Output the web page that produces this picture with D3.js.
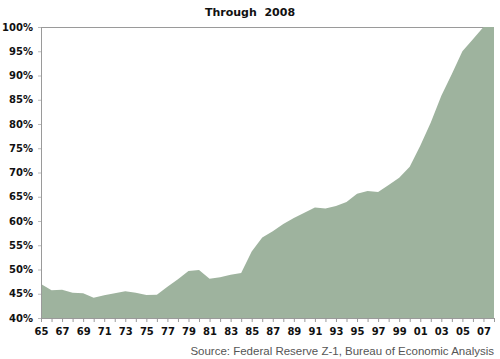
<!DOCTYPE html>
<html>
<head>
<meta charset="utf-8">
<script src="https://cdn.jsdelivr.net/npm/d3@7"></script>
<style>
  html, body { margin: 0; padding: 0; background: #fff; }
  svg { display: block; }
</style>
</head>
<body>
<svg id="chart" width="500" height="359"></svg>
<script>
// ---- data ----
const years = [1965,1966,1967,1968,1969,1970,1971,1972,1973,1974,1975,1976,1977,1978,1979,
  1980,1981,1982,1983,1984,1985,1986,1987,1988,1989,1990,1991,1992,1993,1994,1995,1996,1997,
  1998,1999,2000,2001,2002,2003,2004,2005,2006,2007,2008];
const values = [47.0,45.7,45.8,45.2,45.1,44.2,44.7,45.1,45.5,45.2,44.75,44.8,46.45,48.0,49.7,
  49.9,48.1,48.4,48.9,49.3,53.7,56.6,57.9,59.4,60.6,61.7,62.8,62.6,63.1,63.9,65.6,66.2,66.0,
  67.4,68.9,71.2,75.5,80.3,85.8,90.3,95.0,97.5,100,100];
const yTicks = [40,45,50,55,60,65,70,75,80,85,90,95,100];
const xLabelYears = [1965,1967,1969,1971,1973,1975,1977,1979,1981,1983,1985,1987,1989,1991,
  1993,1995,1997,1999,2001,2003,2005,2007];
const title = "Through\u00a0\u00a02008";
const source = "Source: Federal Reserve Z-1, Bureau of Economic Analysis";

// ---- layout ----
const svg = d3.select("#chart");
const pL = 41, pR = 494, pT = 27, pB = 318;
const x = d3.scaleLinear().domain([1965, 2008]).range([pL, pR]);
const y = d3.scaleLinear().domain([40, 100]).range([pB, pT]);
const data = years.map((yr, i) => ({ yr, v: values[i] }));

svg.append("defs").append("clipPath").attr("id", "clip")
  .append("rect").attr("x", pL).attr("y", pT).attr("width", pR - pL).attr("height", pB - pT);

// top gridline (100%)
svg.append("line").attr("x1", pL).attr("x2", pR).attr("y1", y(100) + 0.5).attr("y2", y(100) + 0.5)
  .attr("stroke", "#9a9a9a").attr("stroke-width", 1);

// area
const area = d3.area().x(d => x(d.yr)).y0(y(40)).y1(d => y(d.v));
svg.append("path").datum(data).attr("d", area)
  .attr("fill", "#9eb39e").attr("clip-path", "url(#clip)");

// y axis
const yAxis = d3.axisLeft(y).tickValues(yTicks).tickSize(3).tickPadding(5)
  .tickFormat(d => d + "%");
const gy = svg.append("g").attr("transform", `translate(${pL},0)`).call(yAxis);
gy.select(".domain").attr("stroke", "#9a9a9a");
gy.selectAll(".tick line").attr("stroke", "#bbbbbb");
gy.selectAll("text").attr("font-family", "'DejaVu Sans', Verdana, sans-serif")
  .attr("font-weight", "bold").attr("font-size", "10px").attr("fill", "#111");

// x axis
const xAxis = d3.axisBottom(x).tickValues(years).tickSize(4).tickPadding(6)
  .tickFormat(d => xLabelYears.includes(d) ? String(d).slice(2) : "");
const gx = svg.append("g").attr("transform", `translate(0,${pB})`).call(xAxis);
gx.select(".domain").attr("stroke", "#9a9a9a").attr("d", `M${pL},0.5H${pR}`);
gx.selectAll(".tick line").attr("stroke", "#9a9a9a");
gx.selectAll("text").attr("font-family", "'DejaVu Sans', Verdana, sans-serif")
  .attr("font-weight", "bold").attr("font-size", "10px").attr("fill", "#111");

// title
svg.append("text").attr("x", 250).attr("y", 16).attr("text-anchor", "middle")
  .attr("font-family", "'DejaVu Sans', Verdana, sans-serif").attr("font-weight", "bold")
  .attr("font-size", "11px").attr("fill", "#111").text(title);

// source
svg.append("text").attr("x", pR).attr("y", 355).attr("text-anchor", "end")
  .attr("font-family", "'Liberation Sans', Arial, sans-serif")
  .attr("font-size", "11.5px").attr("fill", "#555").text(source);
</script>
</body>
</html>
